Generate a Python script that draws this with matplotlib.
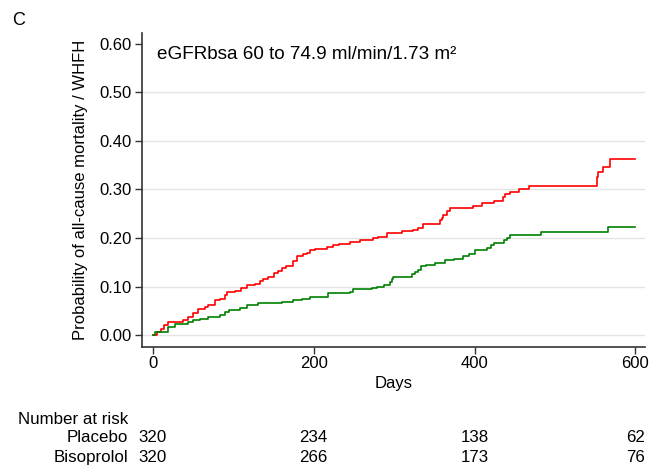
import matplotlib
matplotlib.use("Agg")
import matplotlib.pyplot as plt
import matplotlib.transforms as mtransforms

plt.rcParams['font.family'] = ['Liberation Sans', 'DejaVu Sans']

# Kaplan-Meier style step data (days, cumulative probability)
placebo_days = [0, 5, 10, 14, 19, 37, 44, 50, 56, 65, 69, 77, 83, 90, 92, 102, 110, 117,
                127, 133, 137, 143, 150, 155, 160, 166, 174, 179, 187, 191, 195, 202, 216,
                224, 231, 245, 258, 274, 280, 291, 310, 324, 330, 336, 357, 359, 361, 366,
                369, 398, 409, 424, 435, 438, 444, 455, 468, 552, 554, 560, 569, 600]
placebo_prob = [0.0, 0.006, 0.012, 0.02, 0.027, 0.03, 0.037, 0.045, 0.053, 0.057, 0.062,
                0.072, 0.075, 0.083, 0.088, 0.09, 0.096, 0.103, 0.105, 0.111, 0.116, 0.119,
                0.128, 0.131, 0.138, 0.142, 0.152, 0.162, 0.166, 0.169, 0.175, 0.177, 0.181,
                0.185, 0.188, 0.192, 0.195, 0.199, 0.203, 0.211, 0.214, 0.217, 0.221, 0.229,
                0.237, 0.242, 0.248, 0.255, 0.261, 0.266, 0.272, 0.277, 0.284, 0.29, 0.294,
                0.301, 0.308, 0.326, 0.335, 0.346, 0.363, 0.363]

biso_days = [0, 2, 19, 27, 44, 50, 58, 69, 83, 90, 94, 108, 117, 131, 154, 160, 174, 185,
             195, 218, 245, 249, 272, 279, 287, 295, 297, 299, 322, 326, 330, 334, 339, 351,
             363, 374, 386, 393, 401, 415, 420, 424, 436, 440, 444, 483, 566, 600]
biso_prob = [0.0, 0.006, 0.016, 0.023, 0.027, 0.031, 0.034, 0.038, 0.041, 0.048, 0.051,
             0.055, 0.062, 0.065, 0.066, 0.068, 0.072, 0.075, 0.079, 0.086, 0.089, 0.094,
             0.096, 0.099, 0.103, 0.109, 0.116, 0.12, 0.125, 0.13, 0.135, 0.142, 0.145,
             0.148, 0.154, 0.157, 0.162, 0.166, 0.175, 0.18, 0.185, 0.19, 0.195, 0.2, 0.206,
             0.213, 0.222, 0.222]

x_ticks = [0, 200, 400, 600]
y_ticks = [0.0, 0.1, 0.2, 0.3, 0.4, 0.5, 0.6]
grid_lines = [0.0, 0.1, 0.2, 0.3, 0.4, 0.5]

risk_groups = ['Placebo', 'Bisoprolol']
risk_placebo = [320, 234, 138, 62]
risk_biso = [320, 266, 173, 76]

fig = plt.figure(figsize=(6.52, 4.69), dpi=100)
ax = fig.add_axes([0.2173, 0.2608, 0.772, 0.6695])

for g in grid_lines:
    ax.axhline(g, color='#e4e4e4', linewidth=1.0, zorder=0)

ax.step(placebo_days, placebo_prob, where='post', color='#ff0000', linewidth=1.2)
ax.step(biso_days, biso_prob, where='post', color='#008000', linewidth=1.2)

ax.set_xlim(-14, 612)
ax.set_ylim(-0.024, 0.623)
ax.set_xticks(x_ticks)
ax.set_yticks(y_ticks)
ax.set_yticklabels([f"{v:.2f}" for v in y_ticks])
ax.tick_params(axis='both', labelsize=12, length=5, width=1, color='#333333', pad=2)
for s in ['top', 'right']:
    ax.spines[s].set_visible(False)
for s in ['left', 'bottom']:
    ax.spines[s].set_color('#333333')
    ax.spines[s].set_linewidth(1.2)

ax.set_xlabel('Days', fontsize=12, labelpad=3)
ax.set_ylabel('Probability of all-cause mortality / WHFH', fontsize=12, labelpad=8)
ax.text(0.03, 0.93, 'eGFRbsa 60 to 74.9 ml/min/1.73 m²', transform=ax.transAxes,
        fontsize=13.6, va='center', ha='left')

fig.text(0.018, 0.957, 'C', fontsize=13, va='center', ha='left')

# number at risk table
trans = mtransforms.blended_transform_factory(ax.transData, fig.transFigure)
fig.text(0.027, 0.1066, 'Number at risk', fontsize=12.2, va='center', ha='left')
row_y = [0.0661, 0.0235]
for name, counts, y in zip(risk_groups, [risk_placebo, risk_biso], row_y):
    fig.text(0.1965, y, name, fontsize=12.2, va='center', ha='right')
    for d, c in zip(x_ticks, counts):
        fig.text(d, y, str(c), transform=trans, fontsize=12.2, va='center', ha='center')

fig.savefig('out.png', dpi=100)
